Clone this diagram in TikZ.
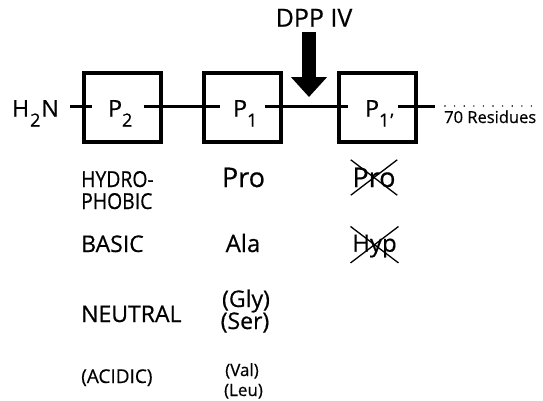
\documentclass[tikz,border=0pt]{standalone}
\usepackage{fontspec}
\setmainfont{Open Sans}[FakeBold=0.5]
\usepackage{graphicx}
\usetikzlibrary{arrows.meta}
\newcommand{\sbs}[1]{\raisebox{-10pt}{\fontsize{18}{18}\selectfont #1}}
\newcommand{\fsz}[1]{\fontsize{#1}{#1}\selectfont}
\begin{document}
\begin{tikzpicture}[x=1pt,y=-1pt,
  box/.style={draw, line width=4.5pt, minimum width=77pt, minimum height=69pt, inner sep=0pt},
  chainlbl/.style={anchor=base west, inner sep=0pt, text height=20pt, text depth=0pt, font=\fsz{23}},
  chain/.style={line width=2.2pt},
  lbl/.style={inner sep=0pt, font=\fsz{23}},
  crossed/.style={inner xsep=1.5pt, inner ysep=0pt, anchor=base},
  xline/.style={line width=1.3pt},
]
\useasboundingbox (0,0) rectangle (543,400);
% boxes
\node[box] (b2) at (122.3,107.5) {};
\node[box] (b1) at (242.3,107.5) {};
\node[box] (b1p) at (377.5,107.5) {};
% chain labels
\node[chainlbl] (h2n) at (12,116.5) {H\kern1pt\sbs{2}\kern1pt N};
\node[chainlbl] (p2) at (108,116.5) {P\sbs{2}};
\node[chainlbl] (p1) at (233,116.5) {P\sbs{1}};
\node[chainlbl] (p1p) at (365,116.5) {P\sbs{1\kern1pt'}};
\coordinate (cut) at (309,106.5);
\coordinate (cend) at (435,106.5);
\coordinate (d0) at (445,106);
\coordinate (d1) at (534,106);
\draw[chain, shorten <=11pt, shorten >=16pt] (h2n.east) -- (p2.west);
\draw[chain, shorten <=11pt, shorten >=13pt] (p2.east) -- (p1.west);
\draw[chain, line width=3.5pt, shorten <=7pt] (p1.east) -- (cut);
\draw[chain, shorten >=17pt] (cut) -- (p1p.west);
\draw[chain, shorten <=4pt] (p1p.east) -- (cend);
\draw[line width=1.6pt, dash pattern=on 0pt off 9.6pt, line cap=round] (d0) -- (d1);
\node[lbl, anchor=base west, font=\fsz{16.5}] (res) at (444,123) {70 Residues};
% enzyme arrow
\node[lbl, anchor=base, font=\fsz{25}] (dpp) at (314,26.7) {DPP IV};
\coordinate (atop) at (309,32);
\coordinate (tip) at (309,97);
\draw[line width=14pt, -{Triangle[width=35pt,length=20pt]}] (atop) -- (tip);
% left column
\node[lbl, anchor=base west, font=\fsz{22}] (hyd) at (81,187) {\scalebox{0.88}[1]{HYDRO-}};
\node[lbl, anchor=base west, font=\fsz{22}] (pho) at (81,209) {\scalebox{0.88}[1]{PHOBIC}};
\node[lbl, anchor=base west] (bas) at (81,252) {BASIC};
\node[lbl, anchor=base west] (neu) at (81,322) {NEUTRAL};
\node[lbl, anchor=base west, font=\fsz{19}] (aci) at (81,383) {(ACIDIC)};
% middle column
\node[lbl, anchor=base, font=\fsz{27}] (pro) at (243.5,187) {Pro};
\node[lbl, anchor=base, font=\fsz{24}] (ala) at (243,252) {Ala};
\node[lbl, anchor=base] (gly) at (246,307) {(Gly)};
\node[lbl, anchor=base] (ser) at (245,329) {(Ser)};
\node[lbl, anchor=base, font=\fsz{17}] (val) at (242,376) {(Val)};
\node[lbl, anchor=base, font=\fsz{17}] (leu) at (243.5,396) {(Leu)};
% right column (excluded)
\node[crossed, font=\fsz{27}, text height=27pt, text depth=8pt] (pro2) at (374,187) {Pro};
\node[crossed, font=\fsz{24}, text height=25pt, text depth=11pt] (hyp2) at (374.5,251.7) {Hyp};
\draw[xline] (pro2.north west) -- (pro2.south east);
\draw[xline] (pro2.south west) -- (pro2.north east);
\draw[xline] (hyp2.north west) -- (hyp2.south east);
\draw[xline] (hyp2.south west) -- (hyp2.north east);
\end{tikzpicture}
\end{document}
